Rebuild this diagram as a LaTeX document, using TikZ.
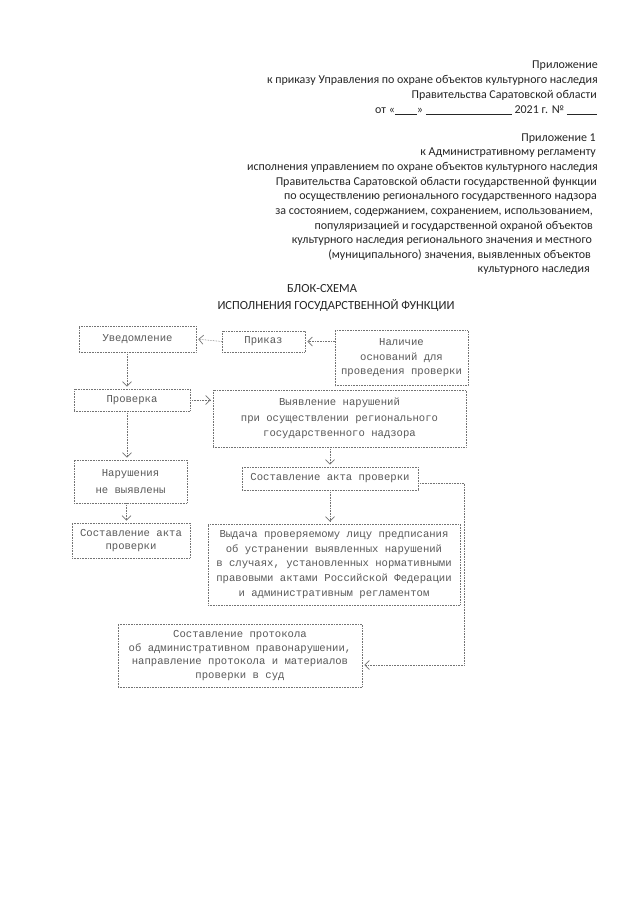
\documentclass[tikz,border=0pt]{standalone}
\usepackage{fontspec}
\setmainfont{Carlito}
\newfontfamily\boxfont{Liberation Mono}
\usetikzlibrary{arrows.meta,calc}
\begin{document}
\begin{tikzpicture}[x=1pt,y=-1pt,
  hdr/.style={anchor=base east,inner sep=0pt,text=black!85,font=\fontsize{12}{14}\selectfont},
  ttl/.style={anchor=base,inner sep=0pt,text=black!85,font=\fontsize{12.4}{14}\selectfont},
  fbox/.style={draw=black!55,densely dotted,line width=0.6pt,inner sep=0pt,align=center,
     text=black!65,font=\boxfont\fontsize{10.6}{14.5}\selectfont},
  conn/.style={draw=black!55,densely dotted,line width=0.6pt},
  arr/.style={conn,-{Straight Barb[length=4.5pt,width=9pt,line width=0.7pt]},shorten >=2pt}
]
\useasboundingbox[fill=white] (0,0) rectangle (640,905);

% header
\node[hdr] (h1) at (598,68) {Приложение};
\node[hdr] (h2) at (598,83) {к приказу Управления по охране объектов культурного наследия};
\node[hdr] (h3) at (597,98) {Правительства Саратовской области};
\node[hdr] (h4) at (597,113) {от «\underline{\hspace{22pt}}» \underline{\hspace{86pt}} 2021 г. № \underline{\hspace{30pt}}};

\node[hdr] (h5) at (596,141) {Приложение 1};
\node[hdr] (h6) at (596,155.6) {к Административному регламенту};
\node[hdr] (h7) at (598,170) {исполнения управлением по охране объектов культурного наследия};
\node[hdr] (h8) at (597,185) {Правительства Саратовской области государственной функции};
\node[hdr] (h9) at (597,199) {по осуществлению регионального государственного надзора};
\node[hdr] (h10) at (593,214) {за состоянием, содержанием, сохранением, использованием,};
\node[hdr] (h11) at (593,229) {популяризацией и государственной охраной объектов};
\node[hdr] (h12) at (592,243) {культурного наследия регионального значения и местного};
\node[hdr] (h13) at (591,258) {(муниципального) значения, выявленных объектов};
\node[hdr] (h14) at (590,272) {культурного наследия};

\node[ttl] (t1) at (322,292) {БЛОК-СХЕМА};
\node[ttl] (t2) at (336,309) {ИСПОЛНЕНИЯ ГОСУДАРСТВЕННОЙ ФУНКЦИИ};

% boxes
\node[fbox,minimum width=117,minimum height=26] (uved) at (137.5,339) {Уведомление};
\node[fbox,minimum width=83,minimum height=21] (prikaz) at (263.5,341.5) {Приказ};
\node[fbox,minimum width=133,minimum height=55] (nal) at (401.5,358) {Наличие\\оснований для\\проведения проверки};
\node[fbox,minimum width=116,minimum height=22] (prov) at (132,400) {Проверка};
\node[fbox,minimum width=253,minimum height=57,font=\boxfont\fontsize{10.6}{15.5}\selectfont] (vyy) at (339.5,418.5) {Выявление нарушений\\при осуществлении регионального\\государственного надзора};
\node[fbox,minimum width=113,minimum height=43,font=\boxfont\fontsize{10.6}{17}\selectfont] (nen) at (130.5,481.5) {Нарушения\\не выявлены};
\node[fbox,minimum width=176,minimum height=23] (aktR) at (330,478.5) {Составление акта проверки};
\node[fbox,minimum width=118,minimum height=35,font=\boxfont\fontsize{10.6}{13}\selectfont] (aktL) at (131,540.5) {Составление акта\\проверки};
\node[fbox,minimum width=252,minimum height=81,font=\boxfont\fontsize{10.6}{14.8}\selectfont] (vyd) at (334,564.5) {Выдача проверяемому лицу предписания\\об устранении выявленных нарушений\\в случаях, установленных нормативными\\правовыми актами Российской Федерации\\и административным регламентом};
\node[fbox,minimum width=244,minimum height=63,font=\boxfont\fontsize{10.6}{13.7}\selectfont] (prot) at (240,655.5) {Составление протокола\\об административном правонарушении,\\направление протокола и материалов\\проверки в суд};

% connectors
\draw[arr] (prikaz.west) -- (uved.east);
\draw[arr] (prikaz.east -| nal.west) -- (prikaz.east);
\draw[arr] ([xshift=-5pt]prov.north |- uved.south) -- ([xshift=-5pt]prov.north);
\draw[arr] (prov.east) -- (prov.east -| vyy.west);
\draw[arr] ([xshift=-5pt]prov.south) -- ([xshift=-5pt]prov.south |- nen.north);
\draw[arr] (aktR.north |- vyy.south) -- (aktR.north);
\draw[arr] ([xshift=-4pt]nen.south) -- ([xshift=-4pt]nen.south |- aktL.north);
\draw[arr] (aktR.south) -- (aktR.south |- vyd.north);
\coordinate (c1) at (464,483);
\draw[arr] ([yshift=-4.5pt]aktR.east) -- (c1) |- ([yshift=-9.5pt]prot.east);
\end{tikzpicture}
\end{document}
